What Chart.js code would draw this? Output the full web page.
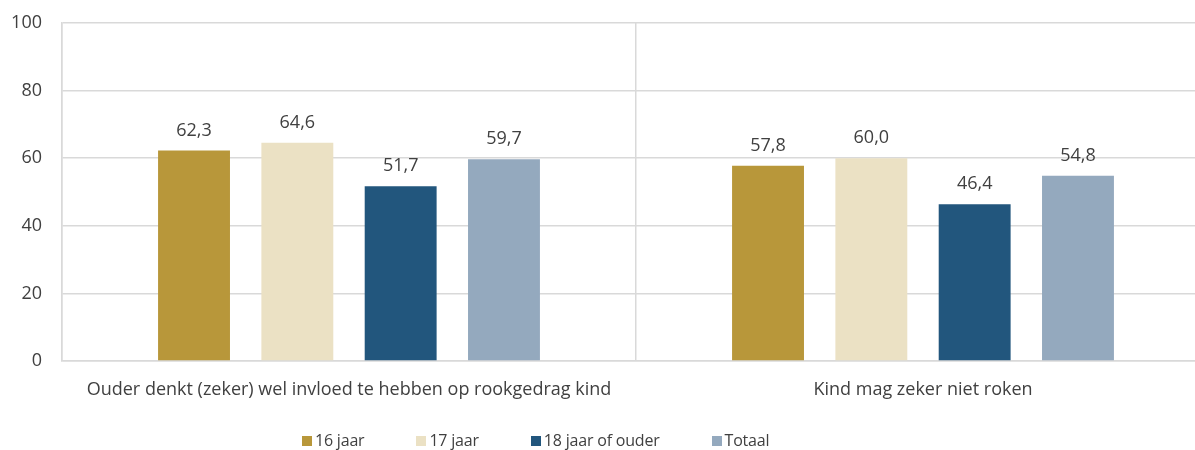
<!DOCTYPE html>
<html>
<head>
<meta charset="utf-8">
<script src="https://cdn.jsdelivr.net/npm/chart.js@4.4.0/dist/chart.umd.min.js"></script>
<style>
  body { margin: 0; width: 1195px; height: 450px; overflow: hidden; background: #fff; font-family: "Open Sans", sans-serif; }
  #wrap { position: relative; width: 1212px; height: 450px; }
  #legend { position: absolute; left: 302px; top: 431px; display: flex; font-size: 16px; line-height: 19px; color: #404040; letter-spacing: -0.2px; }
  #legend .item { display: flex; align-items: center; margin-right: 52px; }
  #legend .box { width: 10px; height: 10px; margin-right: 3px; }
</style>
</head>
<body>
<div id="wrap">
  <canvas id="chart"></canvas>
  <div id="legend"></div>
</div>
<script>
const categories = ['Ouder denkt (zeker) wel invloed te hebben op rookgedrag kind', 'Kind mag zeker niet roken'];
const seriesNames = ['16 jaar', '17 jaar', '18 jaar of ouder', 'Totaal'];
const seriesColors = ['#b8973a', '#ebe1c4', '#22567d', '#94a9be'];
const age16 = [62.3, 57.8];
const age17 = [64.6, 60.0];
const age18plus = [51.7, 46.4];
const total = [59.7, 54.8];
const yTicks = [0, 20, 40, 60, 80, 100];

const textColor = '#404040';
const gridColor = '#d9d9d9';
const fontFamily = '"Open Sans", sans-serif';

const fmt = v => v.toFixed(1).replace('.', ',');

// value above each bar, Dutch decimal comma
const valueLabels = {
  id: 'valueLabels',
  afterDatasetsDraw(chart) {
    const ctx = chart.ctx;
    ctx.save();
    ctx.font = '18px ' + fontFamily;
    ctx.fillStyle = textColor;
    ctx.textAlign = 'center';
    ctx.textBaseline = 'bottom';
    chart.data.datasets.forEach((ds, i) => {
      chart.getDatasetMeta(i).data.forEach((bar, j) => {
        ctx.fillText(fmt(ds.data[j]), bar.x, bar.y - 11);
      });
    });
    ctx.restore();
  }
};

const allSeries = [age16, age17, age18plus, total];

new Chart(document.getElementById('chart'), {
  type: 'bar',
  data: {
    labels: categories,
    datasets: allSeries.map((d, i) => ({
      label: seriesNames[i],
      data: d,
      backgroundColor: seriesColors[i],
      categoryPercentage: 0.72,
      barPercentage: 0.696
    }))
  },
  options: {
    responsive: true,
    maintainAspectRatio: false,
    animation: false,
    layout: { padding: { top: 23, right: 2, left: 0, bottom: 0 } },
    plugins: { legend: { display: false }, tooltip: { enabled: false } },
    scales: {
      x: {
        grid: { color: gridColor, lineWidth: 1.5, drawTicks: false },
        border: { color: gridColor, width: 1.5 },
        ticks: { color: textColor, font: { family: fontFamily, size: 18 }, padding: 18, maxRotation: 0 },
        afterFit(s) { s.height = 89; s.paddingTop = 0; s.paddingBottom = 0; }
      },
      y: {
        min: 0,
        max: 100,
        afterBuildTicks(s) { s.ticks = yTicks.map(v => ({ value: v })); },
        grid: { color: gridColor, lineWidth: 1.5, drawTicks: false },
        border: { color: gridColor, width: 1.5 },
        ticks: { color: textColor, font: { family: fontFamily, size: 18 }, padding: 20 },
        afterFit(s) { s.width = 62; s.paddingTop = 0; s.paddingBottom = 0; }
      }
    }
  },
  plugins: [valueLabels]
});

// legend row under the plot
const legend = document.getElementById('legend');
seriesNames.forEach((name, i) => {
  const item = document.createElement('div');
  item.className = 'item';
  item.innerHTML = '<span class="box" style="background:' + seriesColors[i] + '"></span><span>' + name + '</span>';
  legend.appendChild(item);
});
</script>
</body>
</html>
